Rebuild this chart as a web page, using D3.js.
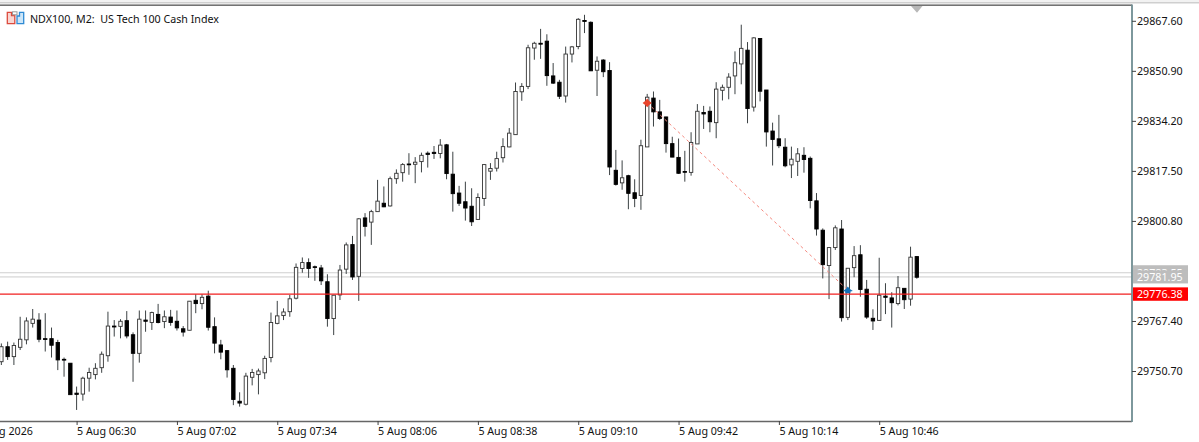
<!DOCTYPE html>
<html>
<head>
<meta charset="utf-8">
<script src="https://cdn.jsdelivr.net/npm/d3@7"></script>
<style>
  html, body { margin: 0; padding: 0; background: #fff; overflow: hidden; }
  text { font-family: "Noto Sans", sans-serif; }
</style>
</head>
<body>
<div id="chart"></div>
<script>
// chart title and axis labels
const title = "NDX100, M2:  US Tech 100 Cash Index"
const timeTicks = [-16, 0, 16, 32, 48, 64, 80, 96, 112, 128]
const timeLabels = ["5 Aug 2026", "5 Aug 06:30", "5 Aug 07:02", "5 Aug 07:34", "5 Aug 08:06", "5 Aug 08:38", "5 Aug 09:10", "5 Aug 09:42", "5 Aug 10:14", "5 Aug 10:46"]
const priceTicks = [29867.60, 29850.90, 29834.20, 29817.50, 29800.80, 29767.40, 29750.70]

// first candle is 12 bars before 06:30
const firstBar = -12

const opens = [
  29753.8, 29758.8, 29755.5, 29758.6, 29761.1, 29766.6, 29767.7, 29761.5, 29761.5, 29760.2, 29754.6, 29753.3,
  29743.3, 29743.0, 29748.3, 29749.5, 29751.8, 29755.8, 29765.7, 29765.6, 29767.5, 29762.8, 29756.6, 29767.7,
  29766.9, 29769.6, 29767.2, 29768.7, 29767.3, 29764.8, 29764.3, 29774.3, 29773.2, 29775.7, 29765.5, 29759.4,
  29757.5, 29751.6, 29740.6, 29739.6, 29748.6, 29749.5, 29750.1, 29755.2, 29766.6, 29769.2, 29770.5, 29775.0,
  29784.9, 29786.9, 29785.5, 29785.1, 29780.5, 29768.2, 29776.1, 29784.7, 29792.9, 29782.3, 29801.8, 29800.4,
  29803.9, 29806.7, 29805.8, 29814.9, 29816.9, 29819.8, 29819.7, 29820.6, 29823.4, 29823.7, 29823.3, 29826.2,
  29816.4, 29810.1, 29807.2, 29805.7, 29801.3, 29808.3, 29817.4, 29818.4, 29821.9, 29825.5, 29829.6, 29843.9,
  29845.7, 29858.5, 29860.1, 29860.8, 29849.2, 29847.1, 29842.5, 29856.5, 29859.0, 29867.7, 29867.1, 29851.1,
  29854.5, 29851.0, 29817.7, 29813.5, 29815.9, 29810.2, 29809.3, 29825.5, 29841.8, 29837.2, 29835.5, 29826.6,
  29822.0, 29817.3, 29817.0, 29826.5, 29837.0, 29837.4, 29833.6, 29844.4, 29845.4, 29849.2, 29853.2, 29857.8,
  29838.8, 29861.7, 29844.5, 29830.8, 29828.2, 29825.4, 29819.5, 29820.7, 29822.7, 29821.7, 29807.5, 29797.7,
  29785.9, 29791.9, 29798.1, 29768.6, 29785.2, 29789.5, 29778.0, 29768.3, 29767.6, 29775.7, 29775.1, 29773.2,
  29778.3, 29774.7, 29788.9
]
const highs = [
  29759.9, 29760.5, 29760.2, 29768.8, 29768.6, 29771.4, 29770.0, 29770.0, 29765.2, 29761.1, 29755.2, 29753.3,
  29745.5, 29748.8, 29751.8, 29753.3, 29757.2, 29770.5, 29767.7, 29768.0, 29770.7, 29763.6, 29770.9, 29770.9,
  29770.5, 29773.1, 29770.9, 29771.1, 29770.9, 29765.7, 29774.0, 29776.3, 29776.3, 29777.5, 29768.6, 29761.1,
  29757.7, 29752.7, 29743.6, 29750.1, 29751.4, 29751.5, 29755.8, 29770.2, 29774.1, 29771.6, 29776.1, 29786.6,
  29788.6, 29788.3, 29785.9, 29786.1, 29783.0, 29776.1, 29786.1, 29793.6, 29795.8, 29801.7, 29803.4, 29804.5,
  29814.5, 29812.3, 29815.6, 29818.0, 29820.1, 29823.4, 29822.1, 29823.6, 29824.0, 29825.8, 29828.1, 29826.5,
  29823.9, 29812.5, 29813.9, 29811.7, 29810.0, 29819.8, 29820.1, 29823.9, 29828.4, 29831.8, 29847.0, 29846.8,
  29859.6, 29860.6, 29864.9, 29863.1, 29853.5, 29847.9, 29859.0, 29859.2, 29868.5, 29869.6, 29867.4, 29855.7,
  29854.8, 29853.8, 29824.5, 29821.0, 29816.2, 29814.7, 29827.9, 29843.2, 29844.0, 29841.2, 29835.6, 29828.9,
  29828.3, 29824.2, 29830.4, 29839.8, 29839.2, 29839.0, 29847.1, 29846.3, 29850.1, 29857.4, 29866.3, 29860.5,
  29862.1, 29861.8, 29844.5, 29833.6, 29836.2, 29828.4, 29825.6, 29825.1, 29825.4, 29822.3, 29810.1, 29798.3,
  29791.9, 29799.3, 29801.1, 29785.0, 29792.4, 29792.7, 29781.1, 29771.3, 29788.5, 29780.0, 29777.0, 29782.4,
  29778.3, 29792.2, 29788.9
]
const lows = [
  29752.7, 29754.4, 29752.7, 29757.7, 29759.6, 29765.2, 29760.3, 29757.2, 29755.2, 29751.0, 29748.8, 29742.8,
  29737.7, 29740.8, 29743.8, 29747.9, 29750.1, 29753.8, 29762.2, 29761.6, 29761.6, 29747.1, 29753.5, 29763.8,
  29764.4, 29766.6, 29765.0, 29765.8, 29764.2, 29762.2, 29764.3, 29770.0, 29771.3, 29764.2, 29756.6, 29754.6,
  29748.5, 29739.3, 29738.8, 29739.2, 29745.9, 29742.9, 29748.0, 29753.6, 29766.3, 29767.7, 29768.8, 29774.6,
  29783.5, 29781.8, 29780.8, 29779.4, 29765.5, 29762.7, 29774.4, 29783.1, 29781.1, 29774.1, 29795.6, 29792.8,
  29803.9, 29805.4, 29805.6, 29813.2, 29813.9, 29816.2, 29813.4, 29817.0, 29818.6, 29821.5, 29821.7, 29814.7,
  29803.9, 29805.8, 29800.9, 29799.1, 29801.1, 29805.8, 29814.5, 29817.3, 29820.3, 29825.4, 29829.6, 29840.9,
  29844.8, 29854.6, 29854.9, 29845.9, 29846.5, 29841.5, 29840.3, 29853.7, 29858.1, 29863.5, 29850.9, 29842.5,
  29848.8, 29816.1, 29812.6, 29811.2, 29804.7, 29805.4, 29804.5, 29825.5, 29832.3, 29834.5, 29823.6, 29822.1,
  29816.5, 29813.9, 29815.9, 29826.5, 29831.5, 29830.4, 29828.4, 29841.0, 29841.4, 29843.1, 29846.4, 29833.4,
  29837.3, 29840.7, 29825.6, 29819.3, 29825.1, 29818.7, 29815.1, 29815.8, 29816.9, 29805.0, 29795.9, 29781.6,
  29774.7, 29791.1, 29767.2, 29767.7, 29782.0, 29775.5, 29768.1, 29764.4, 29767.4, 29769.7, 29765.2, 29772.6,
  29771.4, 29772.5, 29781.5
]
const closes = [
  29758.8, 29755.5, 29759.2, 29761.3, 29767.4, 29768.0, 29761.3, 29761.3, 29759.3, 29754.4, 29754.4, 29742.8,
  29742.9, 29748.3, 29750.2, 29751.6, 29756.3, 29765.7, 29765.4, 29767.3, 29762.4, 29756.6, 29768.0, 29767.3,
  29770.2, 29766.9, 29768.8, 29766.9, 29765.1, 29763.7, 29774.0, 29773.2, 29775.3, 29765.3, 29760.0, 29757.0,
  29751.1, 29741.2, 29740.0, 29749.0, 29750.2, 29750.7, 29754.9, 29766.9, 29769.1, 29770.4, 29774.8, 29785.3,
  29786.9, 29784.9, 29785.3, 29780.8, 29768.2, 29776.0, 29784.4, 29792.8, 29782.1, 29801.5, 29799.0, 29803.9,
  29807.4, 29805.5, 29814.9, 29816.7, 29819.6, 29819.6, 29820.4, 29822.7, 29823.0, 29823.3, 29826.1, 29816.6,
  29809.9, 29806.7, 29805.1, 29800.5, 29808.6, 29819.6, 29818.3, 29821.6, 29825.6, 29830.1, 29844.0, 29845.7,
  29858.6, 29860.1, 29859.8, 29849.3, 29846.8, 29842.4, 29856.5, 29858.9, 29868.1, 29867.4, 29850.9, 29854.1,
  29850.6, 29818.8, 29813.0, 29815.2, 29810.0, 29808.3, 29825.9, 29842.1, 29837.2, 29835.0, 29826.6, 29822.1,
  29816.7, 29817.1, 29827.0, 29837.4, 29836.5, 29833.9, 29844.8, 29845.4, 29848.8, 29853.6, 29858.4, 29838.3,
  29861.9, 29844.1, 29830.5, 29828.0, 29825.9, 29819.2, 29821.4, 29823.2, 29821.3, 29807.6, 29798.1, 29786.2,
  29791.9, 29798.5, 29768.5, 29785.0, 29789.2, 29777.9, 29768.7, 29767.4, 29776.0, 29775.3, 29773.5, 29778.5,
  29774.5, 29788.7, 29782.0
]

// bid/ask lines and their labels on the price axis
const askPrice = 29783.5
const bidPrice = 29782.1
const bidLabel = "29781.95"
const askLabel = "29783.55"
const lastPrice = 29776.38
const lastLabel = "29776.38"

// the closed trade drawn on the chart: bar index and price
const tradeBars = [91, 123]
const tradePrices = [29840.2, 29777.7]

const width = 1199
const height = 442
const axisX = 1132   // price axis line
const axisY = 421    // time axis line
const fontSize = "10.7px"

const x = d3.scaleLinear().domain([0, 128]).range([76.6, 879.2])
const y = d3.scaleLinear().domain([29750.70, 29867.60]).range([371, 20.8])

const svg = d3.select("#chart").append("svg")
  .attr("width", width)
  .attr("height", height)
  .style("display", "block")

// window frame at the top
svg.append("rect").attr("x", 0).attr("y", 0).attr("width", width).attr("height", 2).attr("fill", "#f2f2f2")
svg.append("rect").attr("x", 0).attr("y", 2.2).attr("width", width).attr("height", 1.2).attr("fill", "#c4c4c4")
svg.append("rect").attr("x", 0).attr("y", 4.4).attr("width", axisX).attr("height", 1.6).attr("fill", "#737373")

// chart shift mark
svg.append("path").attr("d", "M911,6 L922.5,6 L917,12.8 Z").attr("fill", "#b8b8b8")

const plot = svg.append("g")
  .append("svg")
  .attr("width", axisX)
  .attr("height", axisY)

// horizontal price lines
plot.append("line").attr("x1", 0).attr("x2", axisX).attr("y1", y(askPrice)).attr("y2", y(askPrice))
  .attr("stroke", "#cfcfcf").attr("stroke-width", 1.2)
plot.append("line").attr("x1", 0).attr("x2", axisX).attr("y1", y(bidPrice)).attr("y2", y(bidPrice))
  .attr("stroke", "#e2e2e2").attr("stroke-width", 1.8)

// candles
const bars = d3.range(opens.length).map(i => ({
  i: i + firstBar,
  o: opens[i],
  h: highs[i],
  l: lows[i],
  c: closes[i],
}))
const bodyWidth = 3.4

const candle = plot.append("g").selectAll("g")
  .data(bars)
  .join("g")

candle.append("line")
  .attr("x1", d => x(d.i))
  .attr("x2", d => x(d.i))
  .attr("y1", d => y(d.h))
  .attr("y2", d => y(d.l))
  .attr("stroke", "#3c4244")
  .attr("stroke-width", 1)

candle.append("rect")
  .attr("x", d => x(d.i) - bodyWidth / 2)
  .attr("width", bodyWidth)
  .attr("y", d => y(Math.max(d.o, d.c)))
  .attr("height", d => Math.max(0.8, Math.abs(y(d.o) - y(d.c))))
  .attr("fill", d => d.c >= d.o ? "#fff" : "#000")
  .attr("stroke", d => d.c >= d.o ? "#333" : "#000")
  .attr("stroke-width", 0.9)

// last price line sits over the candles
plot.append("line").attr("x1", 0).attr("x2", axisX).attr("y1", y(lastPrice)).attr("y2", y(lastPrice))
  .attr("stroke", "#f01f1f").attr("stroke-width", 1.2)

// trade line and its entry/exit arrows
plot.append("line")
  .attr("x1", x(tradeBars[0])).attr("y1", y(tradePrices[0]))
  .attr("x2", x(tradeBars[1])).attr("y2", y(tradePrices[1]))
  .attr("stroke", "#f58a80")
  .attr("stroke-width", 1)
  .attr("stroke-dasharray", "3,3")

plot.append("path")
  .attr("transform", `translate(${x(tradeBars[0])},${y(tradePrices[0])})`)
  .attr("d", "M-4.6,0 L-2,-2 L0,-4.4 L2,-2 L4.6,0 L2,2 L0,4.4 L-2,2 Z")
  .attr("fill", "#e8452c")

plot.append("path")
  .attr("transform", `translate(${x(tradeBars[1])},${y(tradePrices[1])})`)
  .attr("d", "M-5,1 L-2,-1 L0,-3.6 L2,-1 L5,1 L2.6,1.4 L2.6,3.2 L-2.6,3.2 L-2.6,1.4 Z")
  .attr("fill", "#1170b8")

// time axis
const xAxis = d3.axisBottom(x)
  .tickValues(timeTicks)
  .tickFormat((d, i) => timeLabels[i])
  .tickSize(4)
  .tickSizeOuter(0)

const xg = svg.append("g").attr("transform", `translate(0,${axisY})`).call(xAxis)
xg.select(".domain").attr("d", `M0,0.5H${axisX}`).attr("stroke", "#666").attr("stroke-width", 1.4)
xg.selectAll(".tick line").attr("stroke", "#444")
xg.selectAll(".tick text")
  .attr("text-anchor", "start")
  .attr("y", 14)
  .attr("dy", 0)
  .attr("fill", "#111")
  .style("font-family", '"Noto Sans", sans-serif')
  .style("font-size", fontSize)

// price axis
const yAxis = d3.axisRight(y)
  .tickValues(priceTicks)
  .tickFormat(d3.format(".2f"))
  .tickSize(4)
  .tickSizeOuter(0)

const yg = svg.append("g").attr("transform", `translate(${axisX},0)`).call(yAxis)
yg.select(".domain").attr("d", `M0,4.4V${axisY + 1}`).attr("stroke", "#6f8d92").attr("stroke-width", 1.8)
yg.selectAll(".tick line").attr("stroke", "#444")
yg.selectAll(".tick text")
  .attr("x", 5)
  .attr("fill", "#111")
  .style("font-family", '"Noto Sans", sans-serif')
  .style("font-size", fontSize)

// price labels, ask first so the bid box covers most of it
function priceBox(price, label, fill, h, w) {
  const py = y(price)
  svg.append("rect")
    .attr("x", axisX + 1)
    .attr("y", py - h / 2)
    .attr("width", w)
    .attr("height", h)
    .attr("fill", fill)
  svg.append("text")
    .attr("x", axisX + 5)
    .attr("y", py + 4.4)
    .attr("fill", "#fff")
    .style("font-size", fontSize)
    .text(label)
}
priceBox(askPrice, askLabel, "#bdbdbd", 15, 55)
priceBox(bidPrice, bidLabel, "#bdbdbd", 13, 55)
priceBox(lastPrice, lastLabel, "#ff0000", 13.4, 55)

// symbol icon next to the title
const icon = svg.append("g")
icon.append("path").attr("d", "M7.3,12.3 H11.5 V15.5 H14.8 V23.7 H7.3 Z").attr("fill", "#f9d6d2").attr("stroke", "#dc4a3c").attr("stroke-width", 1.3)
icon.append("rect").attr("x", 12.5).attr("y", 11.8).attr("width", 4.5).attr("height", 3).attr("fill", "none").attr("stroke", "#9a9a9a")
icon.append("path").attr("d", "M17,16 H19.5 V12.3 H23.7 V23.7 H17 Z").attr("fill", "#cde6f8").attr("stroke", "#2f8ad4").attr("stroke-width", 1.3)

svg.append("text")
  .attr("x", 30)
  .attr("y", 23)
  .attr("fill", "#111")
  .style("font-size", fontSize)
  .style("white-space", "pre")
  .text(title)
</script>
</body>
</html>
